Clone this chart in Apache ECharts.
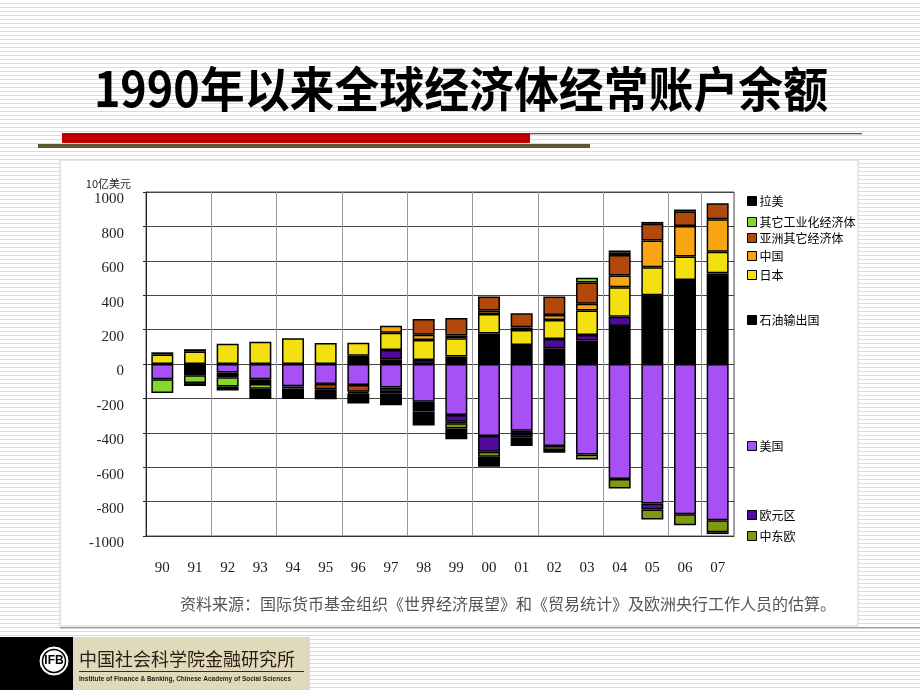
<!DOCTYPE html>
<html><head><meta charset="utf-8">
<script src="https://cdn.jsdelivr.net/npm/echarts@6/dist/echarts.min.js"></script>
<style>
html,body{margin:0;padding:0;}
body{width:920px;height:690px;background:repeating-linear-gradient(to bottom,#ffffff 0px,#ffffff 3px,#dcdcdc 3px,#dcdcdc 4px);}
#c{width:920px;height:690px;}
</style></head><body><div id="c"></div>
<script>
// Units: 10亿美元 (billion USD)
const years = ['90','91','92','93','94','95','96','97','98','99','00','01','02','03','04','05','06','07'];
const yTicks = [-1000,-800,-600,-400,-200,0,200,400,600,800,1000];
const usa      = [-88, null, -50, -89, -130, -116, -122, -136, -219, -297, -419, -388, -477, -526, -669, -811, -873, -908];
const oil      = [null, -66, -27, -28, null, null, 48, 27, -48, 43, 178, 111, 91, 136, 221, 400, 489, 512];
const euro     = [null, null, null, null, null, null, null, 54, 23, -39, -91, -19, 54, 33, 54, -35, null, 15];
const japan    = [55, 72, 118, 130, 150, 122, 76, 100, 116, 107, 113, 87, 111, 142, 171, 163, 136, 126];
const china    = [null, 14, null, null, null, null, null, 42, 31, 16, 20, 15, 29, 39, 68, 155, 178, 188];
const otherAsia= [null, null, null, null, null, -31, -40, -19, 92, 101, 81, 82, 107, 124, 120, 97, 83, 93];
const otherInd = [-80, -45, -54, -27, -12, null, null, null, null, -9, null, null, null, 27, 14, null, null, null];
const cee      = [null, null, null, null, null, null, -8, -15, -10, -30, -29, -19, -23, -29, -55, -58, -64, -70];
const latam    = [13, -17, -23, -60, -62, -58, -59, -70, -80, -62, -59, -51, -16, null, 12, 11, 12, -11];

const names = ['美国','石油输出国','欧元区','日本','中国','亚洲其它经济体','其它工业化经济体','中东欧','拉美'];
const seriesData = [usa, oil, euro, japan, china, otherAsia, otherInd, cee, latam];
const colors = ['#a650f5','#000000','#520a9c','#f4e010','#f9a412','#b3480c','#84d82a','#7f9a12','#000000'];

const CJK = '"Noto Sans CJK SC", sans-serif';
const SERIF = '"Liberation Serif", "DejaVu Serif", serif';

const legendPos = [
  ['拉美',197],['其它工业化经济体',218],['亚洲其它经济体',234],['中国',252],['日本',271],
  ['石油输出国',316],['美国',442],['欧元区',511],['中东欧',532]
];

const chart = echarts.init(document.getElementById('c'), null, {renderer:'canvas'});
chart.setOption({
  animation: false,
  backgroundColor: 'transparent',
  grid: {left:146, right:186, top:192, bottom:154, show:true, borderColor:'#555', borderWidth:1},
  legend: legendPos.map(([n,y]) => ({
    data:[n], left:742, top:y-7, icon:'rect', itemWidth:9, itemHeight:9, itemGap:0,
    selectedMode:false,
    itemStyle:{borderColor:'#000', borderWidth:1},
    textStyle:{fontFamily:CJK, fontSize:12, color:'#000', padding:[0,0,0,-2]}
  })),
  xAxis: {
    type:'category', data:years, boundaryGap:true,
    axisLine:{onZero:false, lineStyle:{color:'#333', width:1}},
    axisTick:{show:false},
    axisLabel:{fontFamily:SERIF, fontSize:15, color:'#222', margin:25, interval:0},
    splitLine:{show:true, interval:1, lineStyle:{color:'#999', width:1}}
  },
  yAxis: {
    type:'value', min:yTicks[0], max:yTicks[yTicks.length-1], interval:200,
    name:'10亿美元', nameLocation:'end', nameGap:3,
    nameTextStyle:{fontFamily:CJK, fontSize:11, color:'#222', align:'right', padding:[0,15,0,0]},
    axisLine:{show:true, lineStyle:{color:'#222', width:1}},
    axisTick:{show:true, length:3, lineStyle:{color:'#222'}},
    axisLabel:{fontFamily:SERIF, fontSize:15, color:'#222', margin:22, verticalAlign:'top', formatter: v => String(v)},
    splitLine:{show:true, lineStyle:{color:'#444', width:1}}
  },
  series: names.map((n,i) => ({
    name:n, type:'bar', stack:'total', barWidth:22, data:seriesData[i],
    itemStyle:{color:colors[i], borderColor:'#000', borderWidth:1.5}
  })),
  graphic: [
    {type:'rect', z:-10, silent:true, shape:{x:60,y:160,width:798,height:466}, style:{fill:'#ffffff', stroke:'#d0d0d0', lineWidth:1}},
    {type:'text', z:10, silent:true, x:461, y:89, scaleX:0.935, style:{text:'1990年以来全球经济体经常账户余额', font:'bold 48px "Noto Sans CJK SC", sans-serif', fill:'#000', align:'center', verticalAlign:'middle'}},
    {type:'rect', z:10, silent:true, shape:{x:530,y:133,width:332,height:1.2}, style:{fill:'#7a4a2a'}},
    {type:'rect', z:10, silent:true, shape:{x:62,y:133,width:468,height:10}, style:{fill:'#c00000'}},
    {type:'rect', z:10, silent:true, shape:{x:38,y:144,width:552,height:4}, style:{fill:'#5e5830'}},
    {type:'text', z:10, silent:true, x:508, y:604, style:{text:'资料来源：国际货币基金组织《世界经济展望》和《贸易统计》及欧洲央行工作人员的估算。', font:'16px "Noto Sans CJK SC", sans-serif', fill:'#555', align:'center', verticalAlign:'middle'}},
    {type:'rect', z:10, silent:true, shape:{x:60,y:627,width:860,height:1.5}, style:{fill:'#a0a0a0'}},
    {type:'rect', z:10, silent:true, shape:{x:0,y:637,width:73,height:53}, style:{fill:'#000'}},
    {type:'rect', z:10, silent:true, shape:{x:73,y:637,width:237,height:53}, style:{fill:'#e0d9bb'}},
    {type:'circle', z:11, silent:true, shape:{cx:54,cy:661,r:14}, style:{fill:'#fff', stroke:'#fff', lineWidth:1}},
    {type:'circle', z:11, silent:true, shape:{cx:54,cy:661,r:11.5}, style:{fill:'#fff', stroke:'#000', lineWidth:1.5}},
    {type:'text', z:12, silent:true, x:54, y:661, style:{text:'IFB', font:'bold 12px "Liberation Sans", Arial, sans-serif', fill:'#000', align:'center', verticalAlign:'middle'}},
    {type:'text', z:11, silent:true, x:79, y:659, style:{text:'中国社会科学院金融研究所', font:'18px "Noto Sans CJK SC", sans-serif', fill:'#2a1c12', align:'left', verticalAlign:'middle'}},
    {type:'rect', z:11, silent:true, shape:{x:79,y:671,width:225,height:1}, style:{fill:'#3a2a1a'}},
    {type:'text', z:11, silent:true, x:79, y:679, style:{text:'Institute of Finance & Banking, Chinese Academy of Social Sciences', font:'bold 6.5px "Liberation Sans", Arial, sans-serif', fill:'#2a1c12', align:'left', verticalAlign:'middle'}}
  ]
});
</script></body></html>
